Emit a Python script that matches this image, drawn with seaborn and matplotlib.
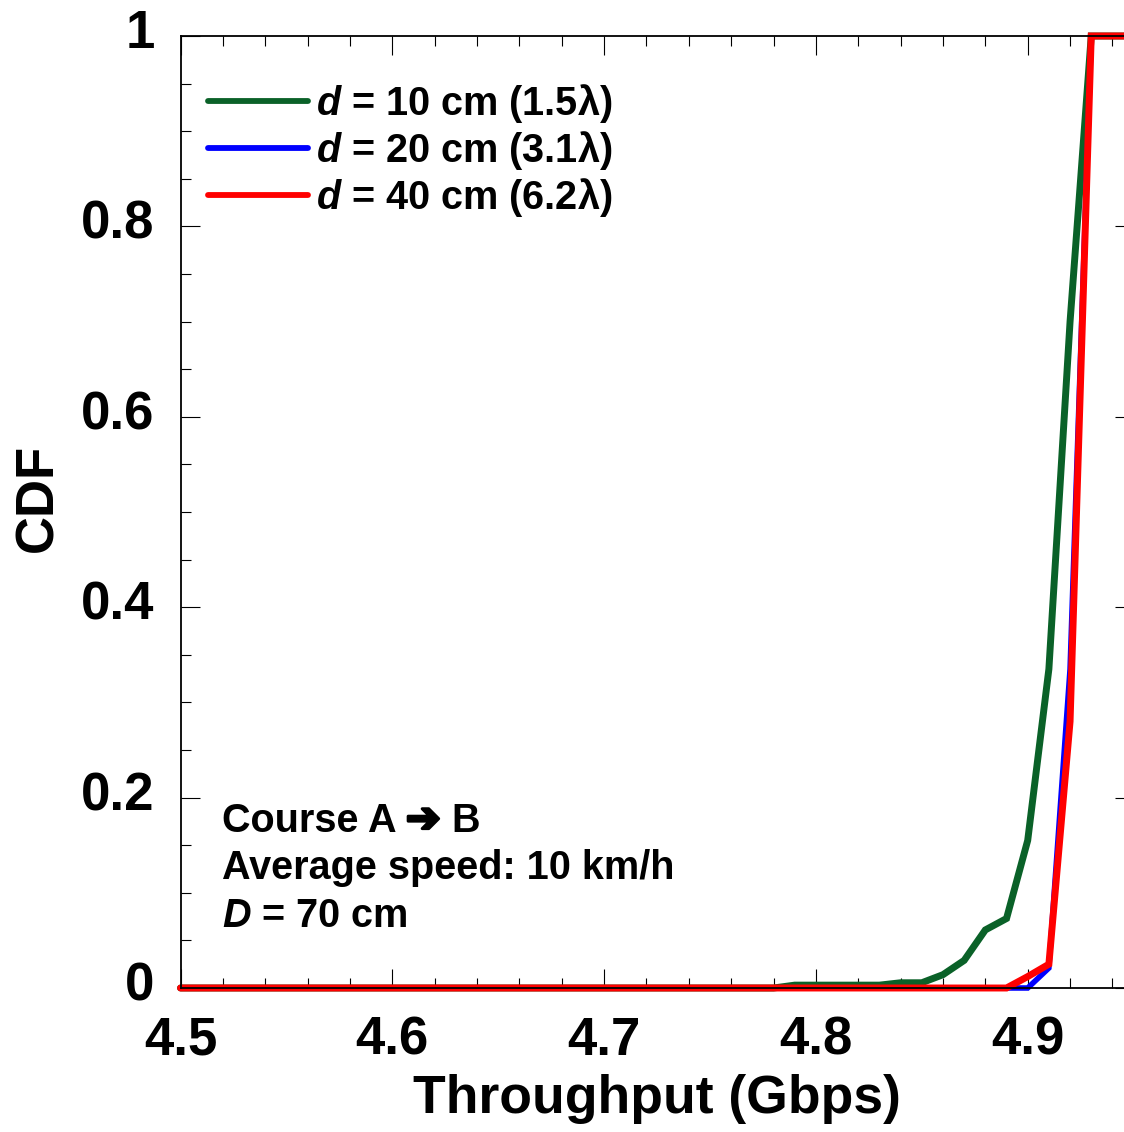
import matplotlib
matplotlib.use("Agg")
import matplotlib.pyplot as plt
from matplotlib.ticker import MultipleLocator, FormatStrFormatter, FuncFormatter
from matplotlib.font_manager import FontProperties
import matplotlib.transforms as mtransforms
import matplotlib.patheffects as pe
import seaborn as sns
import pandas as pd

# ---- data ----
labels = ["$d$ = 10 cm (1.5λ)", "$d$ = 20 cm (3.1λ)", "$d$ = 40 cm (6.2λ)"]
colors = ["#0a6128", "#0000ff", "#ff0000"]

x_10 = [4.50, 4.78, 4.79, 4.83, 4.84, 4.85, 4.86, 4.87, 4.88, 4.89, 4.90, 4.91, 4.92, 4.93, 4.95]
y_10 = [0.0, 0.0, 0.003, 0.003, 0.0055, 0.0055, 0.014, 0.029, 0.061, 0.073, 0.155, 0.335, 0.70, 1.0, 1.0]

x_20 = [4.50, 4.90, 4.91, 4.92, 4.93, 4.95]
y_20 = [0.0, 0.0, 0.021, 0.335, 1.0, 1.0]

x_40 = [4.50, 4.89, 4.90, 4.91, 4.92, 4.93, 4.95]
y_40 = [0.0, 0.0, 0.012, 0.025, 0.28, 1.0, 1.0]

notes = ["Course A ➔ B", "Average speed: 10 km/h", "$D$ = 70 cm"]

# ---- style ----
sns.set_theme(style="white")
FAM = ["Liberation Sans", "DejaVu Sans"]
plt.rcParams["font.family"] = FAM
plt.rcParams["font.weight"] = "bold"
plt.rcParams["text.color"] = "black"
plt.rcParams["axes.labelcolor"] = "black"
plt.rcParams["xtick.color"] = "black"
plt.rcParams["ytick.color"] = "black"
plt.rcParams["mathtext.fontset"] = "custom"
plt.rcParams["mathtext.it"] = "Liberation Sans:italic:bold"
plt.rcParams["mathtext.rm"] = "Liberation Sans:bold"
plt.rcParams["mathtext.bf"] = "Liberation Sans:bold"

df = pd.concat([
    pd.DataFrame({"x": x_10, "y": y_10, "series": labels[0]}),
    pd.DataFrame({"x": x_20, "y": y_20, "series": labels[1]}),
    pd.DataFrame({"x": x_40, "y": y_40, "series": labels[2]}),
], ignore_index=True)

W, H = 1124, 1132
fig = plt.figure(figsize=(W / 100, H / 100), dpi=100)
x0, x1 = 180.5, 1133.6
y0, y1 = 988, 36
ax = fig.add_axes([x0 / W, (H - y0) / H, (x1 - x0) / W, (y0 - y1) / H])

sns.lineplot(data=df, x="x", y="y", hue="series", hue_order=labels,
             palette=dict(zip(labels, colors)), ax=ax, sort=False,
             estimator=None, legend=True)
widths = [5.0, 4.0, 5.0]
for line, lw in zip(ax.get_lines(), widths):
    line.set_linewidth(lw)
    line.set_solid_joinstyle("miter")
    line.set_clip_on(False)

ax.set_xlim(4.5, 4.95)
ax.set_ylim(0, 1)

for s in ax.spines.values():
    s.set_visible(True)
    s.set_color("black")
    s.set_linewidth(1.3)

ax.xaxis.set_major_locator(MultipleLocator(0.1))
ax.xaxis.set_minor_locator(MultipleLocator(0.02))
ax.yaxis.set_major_locator(MultipleLocator(0.2))
ax.yaxis.set_minor_locator(MultipleLocator(0.05))
ax.xaxis.set_major_formatter(FormatStrFormatter("%.1f"))
ax.yaxis.set_major_formatter(FuncFormatter(lambda v, p: f"{v:g}"))
ax.tick_params(which="both", direction="in", top=True, right=True,
               bottom=True, left=True, color="black", width=0.8,
               labelcolor="black")
ax.tick_params(which="major", length=13.7, labelsize=38)
ax.tick_params(which="minor", length=7.2)
ax.tick_params(axis="x", which="major", pad=20)
ax.tick_params(axis="y", which="major", pad=18.7)
for lab in ax.get_xticklabels() + ax.get_yticklabels():
    lab.set_fontweight("bold")
# y tick labels sit a little above their ticks in the reference
off = mtransforms.ScaledTranslation(0, 7 / 100, fig.dpi_scale_trans)
for t in ax.yaxis.get_major_ticks():
    t.label1.set_transform(t.label1.get_transform() + off)

ax.set_xlabel("Throughput (Gbps)", fontsize=38.5, fontweight="bold", labelpad=6)
ax.set_ylabel("CDF", fontsize=38, fontweight="bold")
ax.yaxis.set_label_coords(-0.123, 0.515)

LFS = 28.5
handles, lbls = ax.get_legend_handles_labels()
leg = ax.legend(handles, lbls, loc="upper left", bbox_to_anchor=(0.0289, 0.952),
                frameon=False, borderaxespad=0, borderpad=0,
                handlelength=2.53, handletextpad=0.19, labelspacing=0.105,
                prop=FontProperties(family=FAM, weight="bold", size=LFS))
for h in leg.legend_handles:
    h.set_linewidth(4.2)

# annotation block
baselines = [831.7, 879.0, 926.7]
tx = (221.7 - x0) / (x1 - x0)
for t, b in zip(notes[1:], baselines[1:]):
    ax.text(tx, (y0 - b) / (y0 - y1), t, transform=ax.transAxes,
            ha="left", va="baseline", fontsize=LFS, fontweight="bold",
            family=FAM)

# first line: render the arrow heavier, as in the reference
first, rest = notes[0].split("➔")
yb = (y0 - baselines[0]) / (y0 - y1)
t1 = ax.text(tx, yb, first, transform=ax.transAxes, ha="left", va="baseline",
             fontsize=LFS, fontweight="bold", family=FAM)
fig.canvas.draw()
r = fig.canvas.get_renderer()
bb = t1.get_window_extent(renderer=r)
ax_bb = ax.get_window_extent(renderer=r)
xa = (bb.x1 - ax_bb.x0) / ax_bb.width
t2 = ax.text(xa, yb, "➔", transform=ax.transAxes, ha="left", va="baseline",
             fontsize=LFS * 1.05, fontweight="bold", family=["DejaVu Sans"],
             path_effects=[pe.withStroke(linewidth=2.2, foreground="black")])
fig.canvas.draw()
bb2 = t2.get_window_extent(renderer=r)
xb = (bb2.x1 - ax_bb.x0) / ax_bb.width
ax.text(xb, yb, rest, transform=ax.transAxes, ha="left", va="baseline",
        fontsize=LFS, fontweight="bold", family=FAM)

fig.savefig("out.png", dpi=100)
